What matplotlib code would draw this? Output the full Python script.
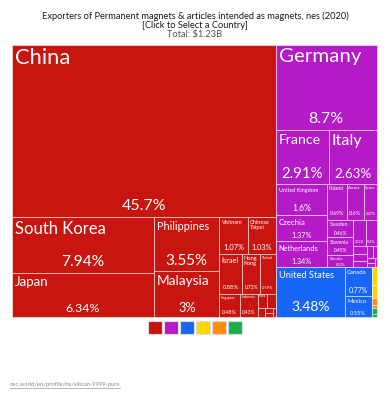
import numpy as np
import matplotlib.pyplot as plt
from matplotlib.patches import Rectangle
from matplotlib.textpath import TextPath
from matplotlib.font_manager import FontProperties

FONT = 'Lato'
plt.rcParams['font.family'] = [FONT, 'DejaVu Sans']

# Export shares (% of world total), grouped by continent
asia_names = ['China', 'South Korea', 'Japan', 'Philippines', 'Malaysia', 'Vietnam',
              'Chinese Taipei', 'Israel', 'Hong Kong', 'Thailand', 'Singapore', 'Indonesia',
              'India', 'Turkey', 'Sri Lanka', 'United Arab Emirates', 'Pakistan', 'Saudi Arabia']
asia_shares = [45.7, 7.94, 6.34, 3.55, 3.0, 1.07, 1.03, 0.88, 0.73, 0.59, 0.48, 0.43,
               0.14, 0.12, 0.06, 0.04, 0.03, 0.02]

europe_names = ['Germany', 'France', 'Italy', 'United Kingdom', 'Czechia', 'Netherlands',
                'Poland', 'Austria', 'Spain', 'Sweden', 'Slovenia', 'Slovakia', 'Hungary',
                'Belgium', 'Denmark', 'Switzerland', 'Finland', 'Romania', 'Portugal',
                'Lithuania', 'Estonia', 'Ireland']
europe_shares = [8.7, 2.91, 2.63, 1.6, 1.37, 1.34, 0.69, 0.6, 0.47, 0.46, 0.45, 0.33, 0.32,
                 0.3, 0.12, 0.1, 0.08, 0.07, 0.05, 0.04, 0.03, 0.02]

namerica_names = ['United States', 'Canada', 'Mexico']
namerica_shares = [3.48, 0.77, 0.55]

africa_names = ['South Africa', 'Morocco']
africa_shares = [0.1, 0.07]

samerica_names = ['Brazil', 'Argentina']
samerica_shares = [0.04, 0.015]

oceania_names = ['Australia', 'New Zealand']
oceania_shares = [0.035, 0.015]

continent_names = ['Asia', 'Europe', 'North America', 'Africa', 'South America', 'Oceania']
continent_colors = ['#c8150f', '#b51ac7', '#1866f5', '#ffd500', '#ff8c0a', '#1cb04c']

title = 'Exporters of Permanent magnets & articles intended as magnets, nes (2020)'
subtitle = '[Click to Select a Country]'
total_text = 'Total: $1.23B'
source = 'oec.world/en/profile/hs/silicon-9999-pure'

groups = [
    (asia_names, asia_shares),
    (europe_names, europe_shares),
    (namerica_names, namerica_shares),
    (africa_names, africa_shares),
    (samerica_names, samerica_shares),
    (oceania_names, oceania_shares),
]

PHI = (1 + 5 ** 0.5) / 2


def squarify(values, x0, y0, x1, y1):
    # same row logic as d3.treemapSquarify (values sorted descending)
    rects = []
    n = len(values)
    i0 = i1 = 0
    total = float(sum(values))
    while i0 < n:
        dx, dy = x1 - x0, y1 - y0
        s = values[i1]
        i1 += 1
        vmin = vmax = s
        alpha = max(dy / dx, dx / dy) / (total * PHI)
        beta = s * s * alpha
        best = max(vmax / beta, beta / vmin)
        while i1 < n:
            v = values[i1]
            s2 = s + v
            beta = s2 * s2 * alpha
            r = max(max(vmax, v) / beta, beta / min(vmin, v))
            if r > best:
                break
            s, best = s2, r
            vmin, vmax = min(vmin, v), max(vmax, v)
            i1 += 1
        row = values[i0:i1]
        if dx < dy:
            h = dy * s / total
            x = x0
            for v in row:
                w = dx * v / s
                rects.append((x, y0, w, h))
                x += w
            y0 += h
        else:
            w = dx * s / total
            y = y0
            for v in row:
                h = dy * v / s
                rects.append((x0, y, w, h))
                y += h
            x0 += w
        total -= s
        i0 = i1
    return rects


fp = FontProperties(family=FONT)


def em_width(s):
    return TextPath((0, 0), s, size=1, prop=fp).get_extents().width


def px(p):
    return p * 0.72  # pixels -> points at 100 dpi


def fmt(v):
    return '%s%%' % ('%.3g' % v)


def label(ax, name, share, x, y, w, h):
    pad = min(3.0, w * 0.08)
    avail = max(w - 2 * pad, 0)
    # name: one line or one word per line, whichever is larger
    best_size, best_text = 0, name
    options = [name] + (['\n'.join(name.split())] if ' ' in name else [])
    for t in options:
        lines = t.split('\n')
        size = min(22, avail * 0.85 / max(em_width(l) for l in lines), h * 0.30 / len(lines))
        if size > best_size:
            best_size, best_text = size, t
    stxt = fmt(share)
    ssize = min(16, avail * 0.85 / em_width(stxt), h * 0.28)
    if best_size >= 2.6:
        ax.text(x + pad, y + pad * 1.2, best_text, color='white', fontsize=px(best_size),
                ha='left', va='top', linespacing=1.0)
    if ssize >= 2.6:
        ax.text(x + w / 2, y + h - min(7, h * 0.12), stxt, color='white',
                fontsize=px(ssize), ha='center', va='baseline')


fig = plt.figure(figsize=(3.9, 4.0), dpi=100)
ax = fig.add_axes([0, 0, 1, 1])
ax.set_xlim(0, 390)
ax.set_ylim(400, 0)
ax.axis('off')

# treemap area
X0, Y0, X1, Y1 = 11.7, 44.7, 377.0, 317.0

order = sorted(range(len(groups)), key=lambda i: -sum(groups[i][1]))
cont_rects = squarify([sum(groups[i][1]) for i in order], X0, Y0, X1, Y1)
for gi, (cx, cy, cw, ch) in zip(order, cont_rects):
    names, shares = groups[gi]
    idx = sorted(range(len(shares)), key=lambda k: -shares[k])
    vals = [shares[k] for k in idx]
    rects = squarify(vals, cx, cy, cx + cw, cy + ch)
    for k, (x, y, w, h) in zip(idx, rects):
        ax.add_patch(Rectangle((x, y), w, h, facecolor=continent_colors[gi],
                               edgecolor=(1, 1, 1, 0.5), linewidth=0.7))
        label(ax, names[k], shares[k], x, y, w, h)

# title block
title_px = 308 / em_width(title)
ax.text(195, 16.5, title, ha='center', va='center', fontsize=px(title_px), color='#1a1a1a')
ax.text(195, 25.5, subtitle, ha='center', va='center', fontsize=px(title_px), color='#1a1a1a')
ax.text(195, 34, total_text, ha='center', va='center', fontsize=px(title_px), color='#555555')

# continent legend
n = len(continent_colors)
step, size = 16, 13.3
start = 195 - (step * (n - 1) + size) / 2
for i, c in enumerate(continent_colors):
    ax.add_patch(Rectangle((start + i * step, 320.7), size, size, facecolor=c,
                           edgecolor='#dddddd', linewidth=0.8))

# source link
src_px = 110 / em_width(source)
ax.text(10, 386, source, ha='left', va='baseline', fontsize=px(src_px), color='#888888')
ax.plot([10, 10 + 110], [387.5, 387.5], color='#999999', linewidth=0.5)

fig.savefig('out.png', dpi=100)
